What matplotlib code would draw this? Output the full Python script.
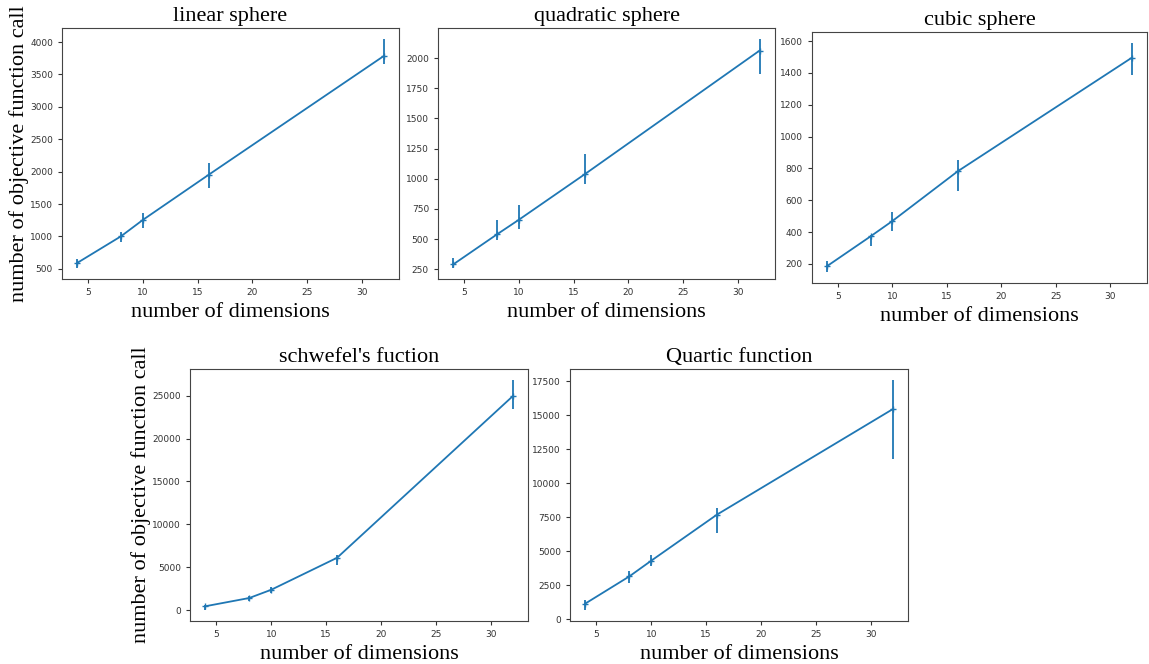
import matplotlib
matplotlib.use("Agg")
import matplotlib.pyplot as plt
import numpy as np

dims = [4, 8, 10, 16, 32]

linear_mean = [593, 1004, 1257, 1952, 3784]
linear_low = [520, 912, 1138, 1751, 3660]
linear_high = [660, 1071, 1365, 2132, 4041]

quad_mean = [291, 540, 661, 1037, 2063]
quad_low = [264, 490, 587, 954, 1870]
quad_high = [340, 658, 783, 1205, 2155]

cubic_mean = [187, 374, 470, 782, 1495]
cubic_low = [152, 315, 407, 660, 1385]
cubic_high = [219, 384, 526, 851, 1585]

schwefel_mean = [461, 1421, 2381, 6106, 24923]
schwefel_low = [77, 1114, 1997, 5261, 23425]
schwefel_high = [653, 1651, 2650, 6375, 26766]

quartic_mean = [1155, 3146, 4302, 7694, 15437]
quartic_low = [713, 2630, 3884, 6318, 11800]
quartic_high = [1401, 3540, 4720, 8210, 17551]

titles = ["linear sphere", "quadratic sphere", "cubic sphere",
          "schwefel's fuction", "Quartic function"]
xlabel = "number of dimensions"
ylabel = "number of objective function call"

W, H = 1149, 664
fig = plt.figure(figsize=(W / 100, H / 100), dpi=100)

# pixel boxes: left, right, top, bottom
boxes = [(62, 399, 28, 279), (438, 775, 28, 279), (812, 1147, 32, 283),
         (190, 528, 369, 621), (570, 908, 369, 621)]
series = [(linear_mean, linear_low, linear_high),
          (quad_mean, quad_low, quad_high),
          (cubic_mean, cubic_low, cubic_high),
          (schwefel_mean, schwefel_low, schwefel_high),
          (quartic_mean, quartic_low, quartic_high)]

serif = ["Liberation Serif", "DejaVu Serif"]

for i, ((l, r, t, b), (m, lo, hi), title) in enumerate(zip(boxes, series, titles)):
    ax = fig.add_axes([l / W, (H - b) / H, (r - l) / W, (b - t) / H])
    m = np.array(m); lo = np.array(lo); hi = np.array(hi)
    yerr = [m - lo, hi - m]
    ax.errorbar(dims, m, yerr=yerr, color="#1f77b4", lw=1.3, elinewidth=1.3,
                marker="+", markersize=4, capsize=0)
    ax.set_title(title, fontsize=16, family=serif, pad=5)
    ax.set_xlabel(xlabel, fontsize=16, family=serif, labelpad=4)
    if i in (0, 3):
        ax.set_ylabel(ylabel, fontsize=16, family=serif, labelpad=1)
    ax.tick_params(labelsize=6.5, colors="#333333", length=3)
    for s in ax.spines.values():
        s.set_color("#444444")
    ax.set_xticks([5, 10, 15, 20, 25, 30])

fig.savefig("out.png", dpi=100)
